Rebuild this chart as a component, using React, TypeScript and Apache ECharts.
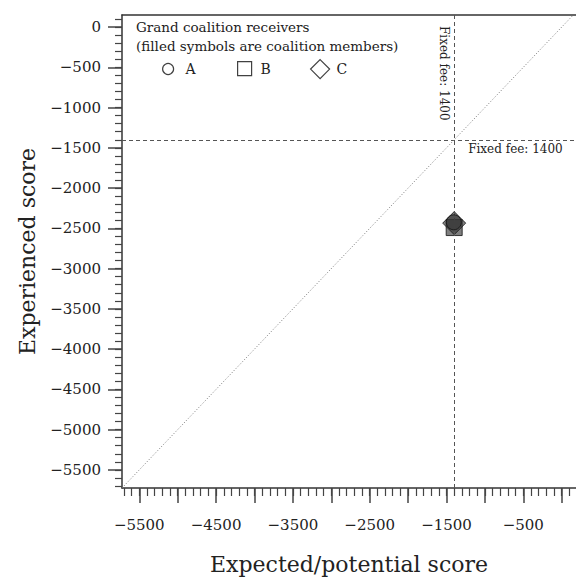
import React, { useEffect, useRef } from "react";
import * as echarts from "echarts";

// ---- data ----
const seriesNames = ["A", "B", "C"];
const seriesA = [[-1405, -2425]];
const seriesB = [[-1400, -2490]];
const seriesC = [[-1400, -2435]];
const fixedFee = 1400;

const xRange = [-5725, 186];
const yRange = [-5725, 150];

const xMajorTicks = [-5500, -5000, -4500, -4000, -3500, -3000, -2500, -2000, -1500, -1000, -500, 0];
const xLabelTicks = [-5500, -4500, -3500, -2500, -1500, -500];
const yMajorTicks = [0, -500, -1000, -1500, -2000, -2500, -3000, -3500, -4000, -4500, -5000, -5500];
const yLabelTicks = yMajorTicks;
const minorStep = 100;

const titleText = "Grand coalition receivers\n(filled symbols are coalition members)";
const xTitle = "Expected/potential score";
const yTitle = "Experienced score";
const feeLabel = "Fixed fee: 1400";

const FONT = "'DejaVu Serif', 'Liberation Serif', serif";

function minorTicks(lo: number, hi: number) {
  const out: number[] = [];
  const start = Math.ceil(lo / minorStep) * minorStep;
  for (let v = start; v <= hi; v += minorStep) out.push(v);
  return out;
}

const fmt = (v: number) => String(v).replace("-", "\u2212");

export default function App() {
  const ref = useRef<HTMLDivElement>(null);
  useEffect(() => {
    if (!ref.current) return;
    const chart = echarts.init(ref.current, null, { renderer: "svg" });
    const axisColor = "#333";
    const tickColor = "#444";
    const labelStyle = { color: "#222", fontFamily: FONT, fontSize: 15 };
    const symStyle = { color: "rgba(55,55,55,0.8)", borderColor: "#111", borderWidth: 1 };
    const legendIcon = { color: "#fff", borderColor: "#111", borderWidth: 1.2 };
    const legendText = { fontFamily: FONT, fontSize: 14, color: "#222" };

    const option: any = {
      animation: false,
      backgroundColor: "#fff",
      title: {
        text: titleText,
        left: 131,
        top: 13,
        textStyle: { fontFamily: FONT, fontSize: 13.5, fontWeight: "normal", color: "#222", lineHeight: 18.5 },
      },
      legend: [
        { data: ["A"], left: 157, top: 57, icon: "circle", itemWidth: 11, itemHeight: 11, itemStyle: legendIcon, textStyle: { ...legendText, padding: [0, 0, 0, 7] } },
        { data: ["B"], left: 232, top: 56, icon: "rect", itemWidth: 14, itemHeight: 14, itemStyle: legendIcon, textStyle: { ...legendText, padding: [0, 0, 0, 4] } },
        { data: ["C"], left: 305, top: 54, icon: "diamond", itemWidth: 19, itemHeight: 19, itemStyle: legendIcon, textStyle: { ...legendText, padding: [0, 0, 0, 2] } },
      ],
      grid: { left: 122, top: 15, right: 0, bottom: 93, containLabel: false },
      xAxis: [
        {
          type: "value", min: xRange[0], max: xRange[1], position: "bottom",
          name: xTitle, nameLocation: "middle", nameGap: 65,
          nameTextStyle: { fontFamily: FONT, fontSize: 22, color: "#222" },
          axisLine: { show: true, onZero: false, lineStyle: { color: axisColor, width: 1.5 } },
          axisTick: { show: true, length: 15, customValues: xMajorTicks, lineStyle: { color: tickColor, width: 1.5 } },
          axisLabel: { show: true, customValues: xLabelTicks, formatter: fmt, margin: 29, ...labelStyle },
          splitLine: { show: false },
        },
        {
          type: "value", min: xRange[0], max: xRange[1], position: "bottom",
          axisLine: { show: false, onZero: false },
          axisTick: { show: true, length: 8, customValues: minorTicks(xRange[0], xRange[1]), lineStyle: { color: tickColor, width: 1.2 } },
          axisLabel: { show: false },
          splitLine: { show: false },
        },
        {
          type: "value", min: xRange[0], max: xRange[1], position: "top",
          axisLine: { show: true, onZero: false, lineStyle: { color: axisColor, width: 1.5 } },
          axisTick: { show: false },
          axisLabel: { show: false },
          splitLine: { show: false },
        },
      ],
      yAxis: [
        {
          type: "value", min: yRange[0], max: yRange[1], position: "left",
          name: yTitle, nameLocation: "middle", nameGap: 84,
          nameTextStyle: { fontFamily: FONT, fontSize: 22, color: "#222" },
          axisLine: { show: true, onZero: false, lineStyle: { color: axisColor, width: 1.5 } },
          axisTick: { show: true, length: 14, customValues: yMajorTicks, lineStyle: { color: tickColor, width: 1.5 } },
          axisLabel: { show: true, customValues: yLabelTicks, formatter: fmt, margin: 21, ...labelStyle },
          splitLine: { show: false },
        },
        {
          type: "value", min: yRange[0], max: yRange[1], position: "left",
          axisLine: { show: false, onZero: false },
          axisTick: { show: true, length: 7, customValues: minorTicks(yRange[0], yRange[1]), lineStyle: { color: tickColor, width: 1.2 } },
          axisLabel: { show: false },
          splitLine: { show: false },
        },
      ],
      series: [
        {
          name: "B", type: "scatter", symbol: "rect", symbolSize: 16, data: seriesB,
          itemStyle: symStyle, xAxisIndex: 0, yAxisIndex: 0, z: 3,
          markLine: {
            silent: true, symbol: "none", label: { show: false }, animation: false,
            data: [
              { xAxis: -fixedFee, lineStyle: { type: [4, 3], color: "#555", width: 1 } },
              { yAxis: -fixedFee, lineStyle: { type: [4, 3], color: "#555", width: 1 } },
              [
                { coord: [xRange[0], yRange[0]], lineStyle: { type: [1, 2], color: "#777", width: 1 } },
                { coord: [yRange[1], yRange[1]] },
              ],
            ],
          },
        },
        { name: "C", type: "scatter", symbol: "diamond", symbolSize: 23, data: seriesC, itemStyle: symStyle, xAxisIndex: 0, yAxisIndex: 0, z: 4 },
        { name: "A", type: "scatter", symbol: "circle", symbolSize: 15, data: seriesA, itemStyle: symStyle, xAxisIndex: 0, yAxisIndex: 0, z: 5 },
      ],
    };
    chart.setOption(option);

    const corner = chart.convertToPixel({ gridIndex: 0 }, [-fixedFee, -fixedFee]) as number[];
    const top = chart.convertToPixel({ gridIndex: 0 }, [-fixedFee, yRange[1]]) as number[];
    chart.setOption({
      graphic: [
        {
          type: "text", x: corner[0] - 10, y: top[1] + 11, rotation: -Math.PI / 2,
          style: { text: feeLabel, fontFamily: FONT, fontSize: 12, fill: "#222", align: "left", verticalAlign: "middle" },
        },
        {
          type: "text", x: corner[0] + 14, y: corner[1] + 3,
          style: { text: feeLabel, fontFamily: FONT, fontSize: 12, fill: "#222", align: "left", verticalAlign: "top" },
        },
      ],
    });
    return () => chart.dispose();
  }, []);
  void seriesNames;
  return <div ref={ref} style={{ position: "absolute", left: 0, top: 0, width: 576, height: 581 }} />;
}
